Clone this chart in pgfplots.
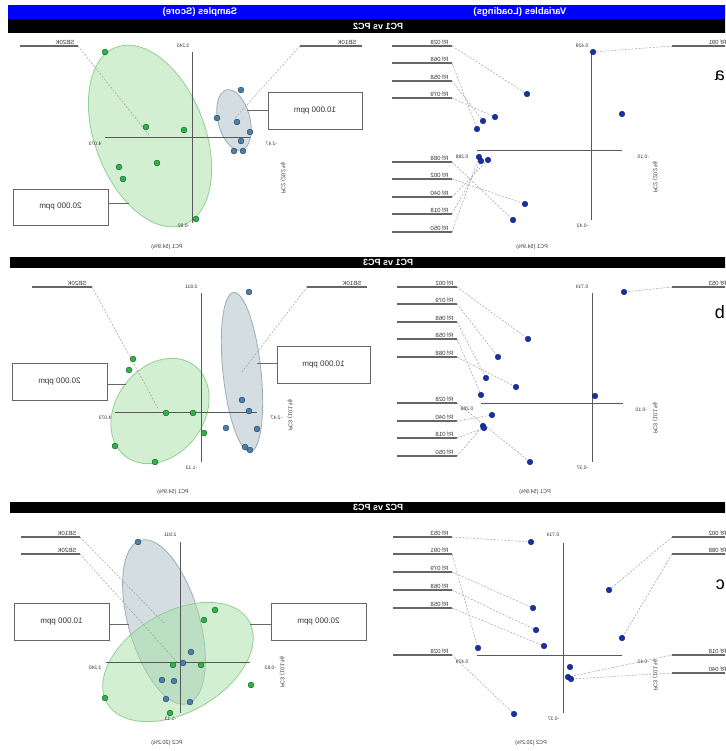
\documentclass[border=0pt]{standalone}
\usepackage{pgfplots}
\pgfplotsset{compat=1.18}
\usepackage{graphicx}
\usepackage{fontspec}
\setmainfont{Liberation Sans}
\usetikzlibrary{shapes.geometric}
\newcommand{\R}[1]{\reflectbox{#1}}
\definecolor{gdot}{HTML}{2DB34A}
\definecolor{gdotd}{HTML}{1E6430}
\definecolor{bdot}{HTML}{4D7EA8}
\definecolor{bdotd}{HTML}{2A4A66}
\definecolor{ldot}{HTML}{1530A8}
\definecolor{ldotd}{HTML}{0D1F70}
\definecolor{gfill}{HTML}{A5E0A5}
\definecolor{gedge}{HTML}{90D090}
\definecolor{sfill}{HTML}{A9BCC4}
\definecolor{sedge}{HTML}{9AAEB5}
\tikzset{
 lbl/.style={font=\fontsize{6}{6}\selectfont, text=black!80, inner sep=0.5pt},
 endl/.style={font=\fontsize{5}{5}\selectfont, text=black!80, inner sep=0.5pt},
 ttl/.style={font=\fontsize{5.5}{5.5}\selectfont, text=black!80, inner sep=0pt},
 lead/.style={draw=black!38, dash pattern=on 2pt off 1.5pt, line width=0.5pt},
 hl/.style={draw=black!60, line width=1.2pt},
 axl/.style={draw=black!65, line width=1pt},
 bx/.style={draw=black!60, line width=0.9pt, fill=white},
 boxt/.style={font=\fontsize{8}{8}\selectfont, text=black!80},
 hdr/.style={font=\bfseries\fontsize{9.5}{9.5}\selectfont, text=white},
 bnd/.style={font=\bfseries\fontsize{9}{9}\selectfont, text=white},
 gell/.style={ellipse, draw=gedge, line width=0.8pt, fill=gfill, fill opacity=0.5, draw opacity=1, inner sep=0pt},
 sell/.style={ellipse, draw=sedge, line width=0.8pt, fill=sfill, fill opacity=0.5, draw opacity=1, inner sep=0pt},
}
\pgfplotsset{
 gpts/.style={only marks, mark=*, mark size=2.9pt, mark options={fill=gdot, draw=gdotd, line width=0.5pt}},
 bpts/.style={only marks, mark=*, mark size=2.9pt, mark options={fill=bdot, draw=bdotd, line width=0.5pt}},
 lpts/.style={only marks, mark=*, mark size=2.8pt, mark options={fill=ldot, draw=ldotd, line width=0.4pt}},
}
\begin{document}
\begin{tikzpicture}
\begin{axis}[
 width=725pt, height=751pt, scale only axis,
 xmin=0, xmax=725, ymin=0, ymax=751, y dir=reverse,
 hide axis, clip=true,
]
% ---------- headers
\fill[blue] (8,5) rectangle (740,19);
\fill[black] (8,19) rectangle (740,33);
\node[hdr] at (200,12) {\R{Samples (Score)}};
\node[hdr] at (520,12) {\R{Variables (Loadings)}};
\node[bnd] at (378,26) {\R{PC1 vs PC2}};
\fill[black] (10,257) rectangle (740,268);
\node[bnd] at (388,262.5) {\R{PC1 vs PC3}};
\fill[black] (10,502) rectangle (740,513);
\node[bnd] at (378,507.5) {\R{PC2 vs PC3}};
% panel letters
\node[font=\fontsize{18}{18}\selectfont, anchor=east, inner sep=0pt] at (725,76) {\R{a}};
\node[font=\fontsize{18}{18}\selectfont, anchor=east, inner sep=0pt] at (725,312) {\R{b}};
\node[font=\fontsize{18}{18}\selectfont, anchor=east, inner sep=0pt] at (725,585) {\R{c}};

% ================= PANEL A : scores PC1 vs PC2
\node[gell, minimum width=190pt, minimum height=110pt, rotate=-69] at (150,136) {};
\node[sell, minimum width=62pt, minimum height=32pt, rotate=-76] at (234,120) {};
\draw[axl] (105,138) -- (250,138);
\draw[axl] (192,52) -- (192,223);
\node[endl, anchor=east] at (190,46) {\R{3.240}};
\node[endl, anchor=east] at (190,226) {\R{-0.82}};
\node[endl, anchor=east] at (102,144) {\R{4.073}};
\node[endl, anchor=west] at (265,144) {\R{-2.47}};
\node[ttl, rotate=-90] at (283,178) {\R{PC2 (20.2\%)}};
\node[ttl] at (167,247) {\R{PC1 (54.9\%)}};
\draw[hl] (20,46) -- (78,46);
\node[lbl, anchor=south east] at (75,45) {\R{SB20K}};
\draw[hl] (300,46) -- (362,46);
\node[lbl, anchor=south east] at (357,45) {\R{SB10K}};
\draw[lead] (78,46) -- (150,136);
\draw[lead] (300,46) -- (235,118);
\draw[bx] (268,92) rectangle (362,129);
\node[boxt] at (315,110.5) {\R{10.000 ppm}};
\draw[hl, line width=0.9pt] (268,110) -- (247,110);
\draw[bx] (13,189) rectangle (108,225);
\node[boxt] at (60.5,207) {\R{20.000 ppm}};
\draw[hl, line width=0.9pt] (108,203) -- (129,203);
\addplot[gpts] coordinates {(105,52) (146,127) (184,130) (157,163) (119,167) (123,179) (196,219)};
\addplot[bpts] coordinates {(241,90) (217,118) (237,122) (250,132) (241,141) (234,151) (243,151)};

% ================= PANEL A : loadings
\draw[axl] (477,151) -- (622,151);
\draw[axl] (591,52) -- (591,220);
\node[endl, anchor=east] at (589,46) {\R{0.429}};
\node[endl, anchor=east] at (589,226) {\R{-0.43}};
\node[endl, anchor=east] at (469,157) {\R{0.288}};
\node[endl, anchor=west] at (637,157) {\R{-0.10}};
\node[ttl, rotate=-90] at (655,177) {\R{PC2 (20.2\%)}};
\node[ttl] at (532,247) {\R{PC1 (54.9\%)}};
\foreach \yy/\tt in {46/Rf 028, 63/Rf 068, 81/Rf 058, 98/Rf 079, 162/Rf 088, 179/Rf 002, 197/Rf 040, 214/Rf 018, 232/Rf 050}{
 \edef\temp{\noexpand\draw[hl] (392,\yy) -- (452,\yy);
 \noexpand\node[lbl, anchor=south east] at (449,\yy-1) {\noexpand\R{\tt}};}
 \temp
}
\draw[hl] (672,46) -- (735,46);
\node[lbl, anchor=south west] at (708,45) {\R{Rf 091}};
\draw[lead] (452,46) -- (527,94);
\draw[lead] (452,63) -- (477,129);
\draw[lead] (452,81) -- (483,121);
\draw[lead] (452,98) -- (495,117);
\draw[lead] (452,162) -- (513,220);
\draw[lead] (452,179) -- (525,204);
\draw[lead] (452,197) -- (488,160);
\draw[lead] (452,214) -- (481,161);
\draw[lead] (452,232) -- (479,157);
\draw[lead] (672,46) -- (593,52);
\addplot[lpts] coordinates {(593,52) (527,94) (622,114) (495,117) (483,121) (477,129) (479,157) (481,161) (488,160) (525,204) (513,220)};

% ================= PANEL B : scores PC1 vs PC3
\node[gell, minimum width=114pt, minimum height=88pt, rotate=53] at (160,411) {};
\node[sell, minimum width=160pt, minimum height=38pt, rotate=-84] at (242,372) {};
\draw[axl] (115,412) -- (257,412);
\draw[axl] (201,293) -- (201,462);
\node[endl, anchor=east] at (198,287) {\R{2.811}};
\node[endl, anchor=east] at (198,468) {\R{-1.13}};
\node[endl, anchor=east] at (112,418) {\R{4.073}};
\node[endl, anchor=west] at (270,418) {\R{-2.47}};
\node[ttl, rotate=-90] at (290,415) {\R{PC3 (10.1\%)}};
\node[ttl] at (173,492) {\R{PC1 (54.9\%)}};
\draw[hl] (32,287) -- (92,287);
\node[lbl, anchor=south east] at (87,286) {\R{SB20K}};
\draw[hl] (307,287) -- (367,287);
\node[lbl, anchor=south east] at (362,286) {\R{SB10K}};
\draw[lead] (92,287) -- (159,410);
\draw[lead] (307,287) -- (242,372);
\draw[bx] (12,363) rectangle (107,400);
\node[boxt] at (59.5,381.5) {\R{20.000 ppm}};
\draw[hl, line width=0.9pt] (107,384) -- (126,384);
\draw[bx] (277,346) rectangle (370,383);
\node[boxt] at (323.5,364.5) {\R{10.000 ppm}};
\draw[hl, line width=0.9pt] (277,363) -- (257,363);
\addplot[gpts] coordinates {(133,359) (129,370) (166,413) (193,413) (204,433) (115,446) (155,462)};
\addplot[bpts] coordinates {(249,292) (242,400) (249,411) (226,428) (257,429) (245,447) (250,450)};

% ================= PANEL B : loadings
\draw[axl] (481,403) -- (623,403);
\draw[axl] (592,293) -- (592,462);
\node[endl, anchor=east] at (589,287) {\R{0.714}};
\node[endl, anchor=east] at (589,468) {\R{-0.37}};
\node[endl, anchor=east] at (474,409) {\R{0.288}};
\node[endl, anchor=west] at (635,410) {\R{-0.10}};
\node[ttl, rotate=-90] at (655,418) {\R{PC3 (10.1\%)}};
\node[ttl] at (535,492) {\R{PC1 (54.9\%)}};
\foreach \yy/\tt in {287/Rf 002, 304/Rf 079, 322/Rf 068, 339/Rf 058, 357/Rf 088, 403/Rf 028, 421/Rf 040, 438/Rf 018, 456/Rf 050}{
 \edef\temp{\noexpand\draw[hl] (397,\yy) -- (457,\yy);
 \noexpand\node[lbl, anchor=south east] at (454,\yy-1) {\noexpand\R{\tt}};}
 \temp
}
\draw[hl] (672,287) -- (735,287);
\node[lbl, anchor=south west] at (708,286) {\R{Rf 053}};
\draw[lead] (457,287) -- (528,339);
\draw[lead] (457,304) -- (498,357);
\draw[lead] (457,322) -- (486,378);
\draw[lead] (457,339) -- (481,395);
\draw[lead] (457,357) -- (516,387);
\draw[lead] (457,403) -- (530,462);
\draw[lead] (457,421) -- (492,415);
\draw[lead] (457,438) -- (484,428);
\draw[lead] (457,456) -- (483,426);
\draw[lead] (672,287) -- (624,292);
\addplot[lpts] coordinates {(624,292) (528,339) (498,357) (486,378) (516,387) (481,395) (595,396) (492,415) (483,426) (484,428) (530,462)};

% ================= PANEL C : scores PC2 vs PC3
\node[sell, minimum width=170pt, minimum height=71pt, rotate=-74] at (164,622) {};
\node[gell, minimum width=164pt, minimum height=100pt, rotate=30] at (178,662) {};
\draw[axl] (106,662) -- (250,662);
\draw[axl] (180,542) -- (180,713);
\node[endl, anchor=east] at (177,535) {\R{2.811}};
\node[endl, anchor=east] at (177,719) {\R{-1.13}};
\node[endl, anchor=east] at (102,668) {\R{3.240}};
\node[endl, anchor=west] at (264,668) {\R{-0.82}};
\node[ttl, rotate=-90] at (282,672) {\R{PC3 (10.1\%)}};
\node[ttl] at (167,743) {\R{PC2 (20.2\%)}};
\draw[hl] (21,537) -- (80,537);
\node[lbl, anchor=south east] at (77,536) {\R{SB10K}};
\draw[hl] (21,554) -- (80,554);
\node[lbl, anchor=south east] at (77,553) {\R{SB20K}};
\draw[lead] (80,537) -- (164,623);
\draw[lead] (80,554) -- (177,662);
\draw[bx] (14,603) rectangle (109,640);
\node[boxt] at (61.5,621.5) {\R{10.000 ppm}};
\draw[hl, line width=0.9pt] (109,624) -- (129,624);
\draw[bx] (271,603) rectangle (366,640);
\node[boxt] at (318.5,621.5) {\R{20.000 ppm}};
\draw[hl, line width=0.9pt] (271,624) -- (250,624);
\addplot[gpts] coordinates {(215,610) (204,620) (201,665) (173,665) (251,685) (105,698) (170,713)};
\addplot[bpts] coordinates {(138,542) (191,652) (183,663) (162,680) (174,681) (166,699) (190,702)};

% ================= PANEL C : loadings
\draw[axl] (477,655) -- (622,655);
\draw[axl] (563,543) -- (563,713);
\node[endl, anchor=east] at (560,535) {\R{0.714}};
\node[endl, anchor=east] at (560,719) {\R{-0.37}};
\node[endl, anchor=east] at (469,662) {\R{0.429}};
\node[endl, anchor=west] at (637,662) {\R{-0.42}};
\node[ttl, rotate=-90] at (655,675) {\R{PC3 (10.1\%)}};
\node[ttl] at (531,743) {\R{PC2 (20.2\%)}};
\foreach \yy/\tt in {537/Rf 053, 554/Rf 091, 572/Rf 079, 590/Rf 068, 608/Rf 058, 655/Rf 028}{
 \edef\temp{\noexpand\draw[hl] (393,\yy) -- (452,\yy);
 \noexpand\node[lbl, anchor=south east] at (449,\yy-1) {\noexpand\R{\tt}};}
 \temp
}
\foreach \yy/\tt in {537/Rf 002, 554/Rf 088, 655/Rf 018, 673/Rf 040}{
 \edef\temp{\noexpand\draw[hl] (672,\yy) -- (735,\yy);
 \noexpand\node[lbl, anchor=south west] at (708,\yy-1) {\noexpand\R{\tt}};}
 \temp
}
\draw[lead] (452,537) -- (531,542);
\draw[lead] (452,554) -- (478,648);
\draw[lead] (452,572) -- (533,608);
\draw[lead] (452,590) -- (536,630);
\draw[lead] (452,608) -- (544,646);
\draw[lead] (452,655) -- (514,714);
\draw[lead] (672,537) -- (609,590);
\draw[lead] (672,554) -- (622,638);
\draw[lead] (672,655) -- (568,677);
\draw[lead] (672,673) -- (571,679);
\addplot[lpts] coordinates {(531,542) (609,590) (533,608) (536,630) (544,646) (622,638) (478,648) (570,667) (568,677) (571,679) (514,714)};
\end{axis}
\pgfresetboundingbox
\path (current axis.south west) rectangle (current axis.north east);
\end{tikzpicture}
\end{document}
